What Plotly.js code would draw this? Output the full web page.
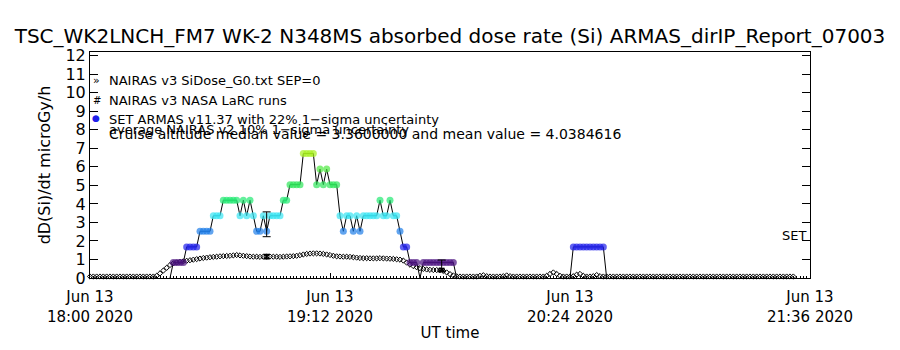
<!DOCTYPE html>
<html><head><meta charset="utf-8">
<script src="https://cdn.plot.ly/plotly-3.0.1.min.js"></script>
<style>html,body{margin:0;padding:0;background:#fff;}#chart{width:900px;height:350px;}</style>
</head><body><div id="chart"></div>
<script>
// minutes after 2020-06-13 18:00 UT
const nairasMin = [
0,1,2,3,4,5,6,7,8,9,10,11,12,13,14,15,16,17,18,19,
20,21,22,23,24,25,26,27,28,29,30,31,32,33,34,35,36,37,38,39,
40,41,42,43,44,45,46,47,48,49,50,51,52,53,54,55,56,57,58,59,
60,61,62,63,64,65,66,67,68,69,70,71,72,73,74,75,76,77,78,79,
80,81,82,83,84,85,86,87,88,89,90,91,92,93,94,95,96,97,98,99,
100,101,102,103,104,105,106,107,108,109,110,111,112,113,114,115,116,117,118,119,
120,121,122,123,124,125,126,127,128,129,130,131,132,133,134,135,136,137,138,139,
140,141,142,143,144,145,146,147,148,149,150,151,152,153,154,155,156,157,158,159,
160,161,162,163,164,165,166,167,168,169,170,171,172,173,174,175,176,177,178,179,
180,181,182,183,184,185,186,187,188,189,190,191,192,193,194,195,196,197,198,199,
200,201,202,203,204,205,206,207,208,209,210,211];
const nairasDose = [
0.08,0.08,0.08,0.08,0.08,0.08,0.08,0.08,0.08,0.08,0.08,0.08,0.08,0.08,0.08,0.08,0.08,0.08,0.08,0.08,
0.12,0.25,0.4,0.55,0.7,0.79,0.84,0.87,0.9,0.93,0.96,0.99,1.02,1.05,1.08,1.1,1.12,1.14,1.15,1.17,
1.18,1.19,1.2,1.22,1.24,1.22,1.2,1.18,1.16,1.15,1.15,1.14,1.15,1.15,1.16,1.15,1.15,1.14,1.15,1.16,
1.17,1.18,1.2,1.23,1.27,1.3,1.32,1.33,1.33,1.32,1.3,1.27,1.24,1.2,1.17,1.16,1.15,1.15,1.14,1.12,
1.1,1.08,1.07,1.07,1.06,1.06,1.06,1.07,1.06,1.05,1.04,1.03,1.01,0.99,0.94,0.83,0.72,0.64,0.58,0.53,
0.49,0.46,0.44,0.43,0.43,0.42,0.38,0.3,0.21,0.14,0.09,0.08,0.08,0.08,0.08,0.08,0.08,0.12,0.15,0.1,
0.08,0.08,0.08,0.08,0.1,0.14,0.1,0.08,0.08,0.08,0.08,0.08,0.08,0.08,0.08,0.08,0.08,0.12,0.22,0.3,
0.22,0.12,0.08,0.08,0.08,0.1,0.18,0.22,0.12,0.08,0.08,0.1,0.16,0.1,0.08,0.08,0.08,0.08,0.08,0.08,
0.08,0.08,0.08,0.08,0.08,0.08,0.08,0.08,0.08,0.08,0.08,0.08,0.08,0.08,0.08,0.08,0.08,0.08,0.08,0.08,
0.08,0.08,0.08,0.08,0.08,0.08,0.08,0.08,0.08,0.08,0.08,0.08,0.08,0.08,0.08,0.08,0.08,0.08,0.08,0.08,
0.08,0.08,0.08,0.08,0.08,0.08,0.08,0.08,0.08,0.08,0.08,0.08];

const armasMin = [
24,25,26,27,28,29,30,31,32,33,34,35,36,37,38,39,40,41,42,43,44,45,46,47,48,49,50,51,52,53,
54,55,56,57,58,59,60,61,62,63,64,65,66,67,68,69,70,71,72,73,74,75,76,77,78,79,80,81,82,83,
84,85,86,87,88,89,90,91,92,93,94,95,96,97,98,99,100,101,102,103,104,105,106,107,108,109,110,
127,
144,145,146,147,148,149,150,151,152,153,154,155];
const armasDose = [
0,0.84,0.84,0.84,0.84,1.68,1.68,1.68,1.68,2.52,2.52,2.52,2.52,3.36,3.36,3.36,4.2,4.2,4.2,4.2,4.2,
3.36,4.2,3.36,4.2,3.36,2.52,2.52,3.36,2.52,
3.36,3.36,3.36,3.36,4.2,4.2,5.04,5.04,5.04,5.04,6.72,6.72,6.72,6.72,
5.04,5.88,5.04,5.88,5.04,5.04,5.04,
3.36,2.52,3.36,3.36,2.52,3.36,2.52,3.36,3.36,3.36,3.36,3.36,
4.2,3.36,3.36,4.2,3.36,3.36,2.52,1.68,1.68,0.84,0.84,0.84,0,
0.84,0.84,0.84,0.84,0.84,0.84,0.84,0.84,0.84,0.84,0,
null,
0,1.68,1.68,1.68,1.68,1.68,1.68,1.68,1.68,1.68,1.68,0];

// error bars (ARMAS 22% and NAIRAS v2 10%)
const armasErrMin = [53, 105.5];
const armasErrDose = [2.9, 0.65];
const armasErrSize = [0.67, 0.32];
const nairasErrMin = [53, 105.5];
const nairasErrDose = [1.15, 0.44];
const nairasErrSize = [0.1, 0.06];

const tickMin = [0, 72, 144, 216];
const tickLabels = ['Jun 13<br>18:00 2020','Jun 13<br>19:12 2020','Jun 13<br>20:24 2020','Jun 13<br>21:36 2020'];

const levelColors = {
  '0.84':'#4b1280','1.68':'#2020ea','2.52':'#1e7ee8','3.36':'#36e4f2',
  '4.2':'#22ea72','5.04':'#2ee65a','5.88':'#4eea40','6.72':'#a6f01e'
};

const T0 = Date.UTC(2020,5,13,18,0,0);
function toDate(m){ return new Date(T0 + m*60000).toISOString().replace('T',' ').slice(0,19); }

const FONT = 'DejaVu Sans, Liberation Sans, sans-serif';

const traces = [
 {x: nairasMin.map(toDate), y: nairasDose, type:'scatter', mode:'markers',
  marker:{symbol:'diamond-open', size:4, color:'black', line:{width:1,color:'black'}},
  cliponaxis:false, hoverinfo:'skip', showlegend:false},
 {x: armasMin.map(toDate), y: armasDose, type:'scatter', mode:'lines+markers',
  line:{color:'black', width:1},
  marker:{size: armasDose.map(v => v ? 7 : 0),
          color: armasDose.map(v => v ? levelColors[String(v)] : 'rgba(0,0,0,0)'),
          line:{width:0}},
  connectgaps:false, hoverinfo:'skip', showlegend:false},
 {x: armasErrMin.map(toDate), y: armasErrDose, type:'scatter', mode:'markers',
  marker:{size:0.1, color:'rgba(0,0,0,0)'},
  error_y:{type:'data', array: armasErrSize, visible:true, color:'black', thickness:1, width:4},
  hoverinfo:'skip', showlegend:false},
 {x: nairasErrMin.map(toDate), y: nairasErrDose, type:'scatter', mode:'markers',
  marker:{size:0.1, color:'rgba(0,0,0,0)'},
  error_y:{type:'data', array: nairasErrSize, visible:true, color:'black', thickness:2, width:3},
  hoverinfo:'skip', showlegend:false}
];

function px(x){ return (x-90)/720; }
function py(y){ return (278-y)/226; }
const legendTexts = [
 ['NAIRAS v3 SiDose_G0.txt SEP=0', 80.5, 13],
 ['NAIRAS v3 NASA LaRC runs', 100, 13],
 ['SET ARMAS v11.37 with 22% 1\u2212sigma uncertainty', 119.5, 13],
 ['average NAIRAS v2 10% 1\u2212sigma uncertainty', 129.5, 13],
 ['Cruise altitude median value = 3.3600000 and mean value = 4.0384616', 133.5, 14]
];
const annotations = legendTexts.map(([t,y,s]) => ({
  text:t, xref:'paper', yref:'paper', x:px(107), y:py(y), xanchor:'left', yanchor:'middle',
  showarrow:false, font:{family:FONT, size:s, color:'black'}
}));
annotations.push({text:'\u00bb', xref:'paper', yref:'paper', x:px(91), y:py(80), xanchor:'left', yanchor:'middle', showarrow:false, font:{family:FONT,size:11,color:'black'}});
annotations.push({text:'#', xref:'paper', yref:'paper', x:px(91), y:py(100), xanchor:'left', yanchor:'middle', showarrow:false, font:{family:FONT,size:10,color:'black'}});
annotations.push({text:'\u25cf', xref:'paper', yref:'paper', x:px(90), y:py(118), xanchor:'left', yanchor:'middle', showarrow:false, font:{family:FONT,size:9,color:'#2020ea'}});
annotations.push({text:'SET', xref:'paper', yref:'paper', x:px(808), y:py(236), xanchor:'right', yanchor:'middle', showarrow:false, font:{family:FONT,size:13,color:'black'}});

const layout = {
  width:900, height:350,
  margin:{l:90, r:90, t:52, b:72},
  paper_bgcolor:'white', plot_bgcolor:'white',
  font:{family:FONT, color:'black'},
  showlegend:false,
  title:{text:'TSC_WK2LNCH_FM7 WK-2 N348MS absorbed dose rate (Si) ARMAS_dirIP_Report_07003',
         font:{family:FONT, size:20, color:'black'}, x:0.5, xanchor:'center',
         yref:'container', y:1-35.5/350, yanchor:'middle'},
  xaxis:{type:'date', range:[toDate(0), toDate(216)],
         tickmode:'array', tickvals: tickMin.map(toDate), ticktext: tickLabels,
         ticks:'inside', ticklen:5, tickcolor:'black', tickwidth:1, ticklabelstandoff:5,
         minor:{dtick:60000, ticks:'inside', ticklen:2, tickcolor:'black', showgrid:false},
         showline:true, linecolor:'black', linewidth:1, mirror:true,
         showgrid:false, zeroline:false, tickfont:{family:FONT, size:15, color:'black'},
         title:{text:'UT time', font:{family:FONT, size:15, color:'black'}, standoff:2},
         automargin:false, fixedrange:true},
  yaxis:{range:[0,12.2], tick0:0, dtick:1, ticks:'inside', ticklen:8, tickcolor:'black',
         showline:true, linecolor:'black', linewidth:1, mirror:'ticks',
         showgrid:false, zeroline:false, tickfont:{family:FONT, size:16, color:'black'},
         title:{text:'dD(Si)/dt microGy/h', font:{family:FONT, size:16, color:'black'}, standoff:10},
         automargin:false, fixedrange:true},
  annotations: annotations
};

Plotly.newPlot('chart', traces, layout, {displayModeBar:false, staticPlot:true});
</script>
</body></html>
